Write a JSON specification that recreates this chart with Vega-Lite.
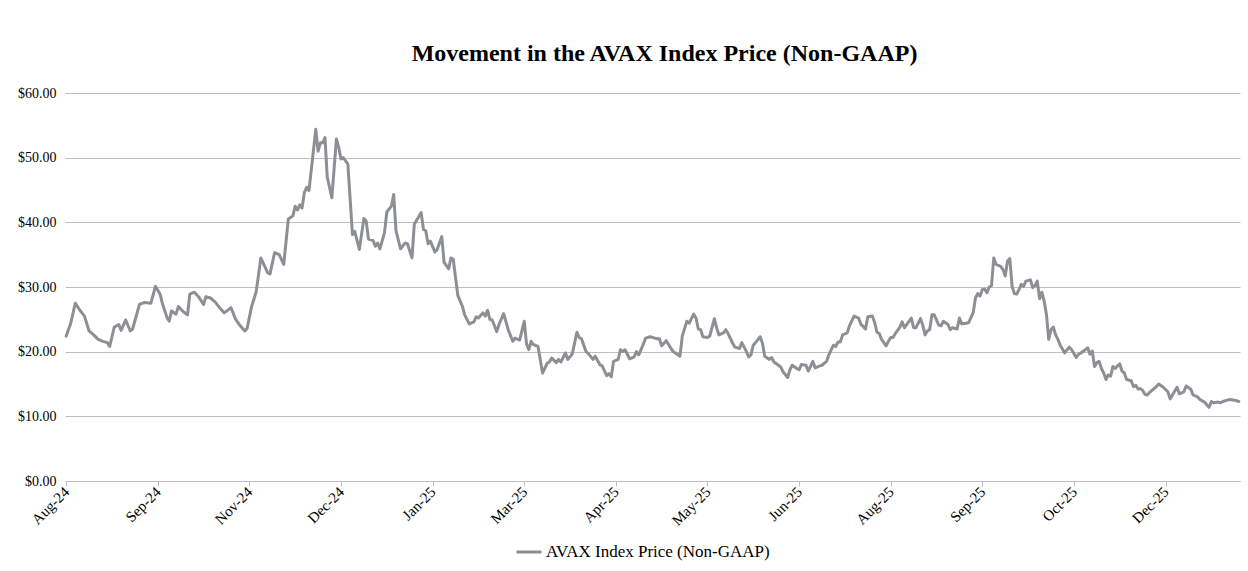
{
  "$schema": "https://vega.github.io/schema/vega-lite/v6.json",
  "width": 1175,
  "height": 388,
  "autosize": {"type": "none"},
  "padding": {"left": 65, "top": 93, "right": 8, "bottom": 90},
  "background": "white",
  "config": {"font": "Liberation Serif", "view": {"stroke": null}},
  "title": {"text": "Movement in the AVAX Index Price (Non-GAAP)", "font": "Liberation Serif", "fontSize": 24, "fontWeight": "bold", "color": "#000000", "anchor": "middle", "dx": 12, "offset": 20},
  "data": {"values": [
    {"date": "2024-08-13", "price": 22.4},
    {"date": "2024-08-15", "price": 24.4},
    {"date": "2024-08-17", "price": 27.5},
    {"date": "2024-08-19", "price": 26.4},
    {"date": "2024-08-21", "price": 25.5},
    {"date": "2024-08-23", "price": 23.2},
    {"date": "2024-08-25", "price": 22.6},
    {"date": "2024-08-27", "price": 21.9},
    {"date": "2024-08-29", "price": 21.6},
    {"date": "2024-08-31", "price": 21.4},
    {"date": "2024-09-01", "price": 20.8},
    {"date": "2024-09-03", "price": 23.8},
    {"date": "2024-09-05", "price": 24.2},
    {"date": "2024-09-06", "price": 23.3},
    {"date": "2024-09-08", "price": 24.9},
    {"date": "2024-09-10", "price": 23.2},
    {"date": "2024-09-11", "price": 23.5},
    {"date": "2024-09-13", "price": 26.0},
    {"date": "2024-09-14", "price": 27.3},
    {"date": "2024-09-16", "price": 27.6},
    {"date": "2024-09-19", "price": 27.5},
    {"date": "2024-09-21", "price": 30.1},
    {"date": "2024-09-23", "price": 28.9},
    {"date": "2024-09-24", "price": 27.5},
    {"date": "2024-09-26", "price": 25.3},
    {"date": "2024-09-27", "price": 24.7},
    {"date": "2024-09-28", "price": 26.3},
    {"date": "2024-09-30", "price": 25.8},
    {"date": "2024-10-01", "price": 27.0},
    {"date": "2024-10-03", "price": 26.2},
    {"date": "2024-10-05", "price": 25.7},
    {"date": "2024-10-06", "price": 28.9},
    {"date": "2024-10-08", "price": 29.2},
    {"date": "2024-10-10", "price": 28.4},
    {"date": "2024-10-12", "price": 27.3},
    {"date": "2024-10-13", "price": 28.5},
    {"date": "2024-10-15", "price": 28.3},
    {"date": "2024-10-17", "price": 27.7},
    {"date": "2024-10-19", "price": 26.8},
    {"date": "2024-10-21", "price": 26.0},
    {"date": "2024-10-24", "price": 26.8},
    {"date": "2024-10-26", "price": 25.0},
    {"date": "2024-10-28", "price": 24.0},
    {"date": "2024-10-30", "price": 23.2},
    {"date": "2024-10-31", "price": 23.6},
    {"date": "2024-11-02", "price": 27.0},
    {"date": "2024-11-04", "price": 29.3},
    {"date": "2024-11-06", "price": 34.5},
    {"date": "2024-11-09", "price": 32.2},
    {"date": "2024-11-10", "price": 32.0},
    {"date": "2024-11-12", "price": 35.3},
    {"date": "2024-11-14", "price": 35.0},
    {"date": "2024-11-16", "price": 33.5},
    {"date": "2024-11-18", "price": 40.5},
    {"date": "2024-11-20", "price": 41.0},
    {"date": "2024-11-21", "price": 42.5},
    {"date": "2024-11-22", "price": 41.9},
    {"date": "2024-11-23", "price": 42.7},
    {"date": "2024-11-24", "price": 42.2},
    {"date": "2024-11-25", "price": 44.6},
    {"date": "2024-11-26", "price": 45.4},
    {"date": "2024-11-27", "price": 44.9},
    {"date": "2024-11-28", "price": 48.0},
    {"date": "2024-11-30", "price": 54.4},
    {"date": "2024-12-01", "price": 51.0},
    {"date": "2024-12-02", "price": 52.3},
    {"date": "2024-12-03", "price": 52.3},
    {"date": "2024-12-04", "price": 53.1},
    {"date": "2024-12-05", "price": 47.0},
    {"date": "2024-12-07", "price": 43.8},
    {"date": "2024-12-09", "price": 52.9},
    {"date": "2024-12-10", "price": 51.6},
    {"date": "2024-12-11", "price": 49.8},
    {"date": "2024-12-12", "price": 50.0},
    {"date": "2024-12-14", "price": 49.0},
    {"date": "2024-12-16", "price": 38.1},
    {"date": "2024-12-17", "price": 38.6},
    {"date": "2024-12-19", "price": 35.8},
    {"date": "2024-12-21", "price": 40.6},
    {"date": "2024-12-22", "price": 40.2},
    {"date": "2024-12-23", "price": 37.4},
    {"date": "2024-12-25", "price": 37.2},
    {"date": "2024-12-26", "price": 36.3},
    {"date": "2024-12-27", "price": 36.8},
    {"date": "2024-12-28", "price": 35.9},
    {"date": "2024-12-30", "price": 38.4},
    {"date": "2024-12-31", "price": 41.6},
    {"date": "2025-01-02", "price": 42.5},
    {"date": "2025-01-03", "price": 44.3},
    {"date": "2025-01-04", "price": 38.7},
    {"date": "2025-01-06", "price": 35.9},
    {"date": "2025-01-08", "price": 36.8},
    {"date": "2025-01-09", "price": 36.7},
    {"date": "2025-01-11", "price": 34.5},
    {"date": "2025-01-12", "price": 39.7},
    {"date": "2025-01-15", "price": 41.5},
    {"date": "2025-01-16", "price": 38.9},
    {"date": "2025-01-17", "price": 38.7},
    {"date": "2025-01-18", "price": 36.7},
    {"date": "2025-01-19", "price": 37.1},
    {"date": "2025-01-21", "price": 35.4},
    {"date": "2025-01-22", "price": 35.8},
    {"date": "2025-01-24", "price": 37.8},
    {"date": "2025-01-25", "price": 33.8},
    {"date": "2025-01-27", "price": 32.8},
    {"date": "2025-01-28", "price": 34.5},
    {"date": "2025-01-29", "price": 34.3},
    {"date": "2025-01-31", "price": 28.7},
    {"date": "2025-02-02", "price": 27.0},
    {"date": "2025-02-03", "price": 25.7},
    {"date": "2025-02-05", "price": 24.3},
    {"date": "2025-02-07", "price": 24.6},
    {"date": "2025-02-08", "price": 25.4},
    {"date": "2025-02-09", "price": 25.2},
    {"date": "2025-02-11", "price": 26.0},
    {"date": "2025-02-12", "price": 25.5},
    {"date": "2025-02-13", "price": 26.4},
    {"date": "2025-02-14", "price": 25.0},
    {"date": "2025-02-15", "price": 24.9},
    {"date": "2025-02-17", "price": 23.1},
    {"date": "2025-02-18", "price": 24.2},
    {"date": "2025-02-20", "price": 25.9},
    {"date": "2025-02-22", "price": 23.4},
    {"date": "2025-02-24", "price": 21.6},
    {"date": "2025-02-25", "price": 22.1},
    {"date": "2025-02-27", "price": 21.8},
    {"date": "2025-03-01", "price": 24.7},
    {"date": "2025-03-02", "price": 21.2},
    {"date": "2025-03-03", "price": 20.3},
    {"date": "2025-03-04", "price": 21.6},
    {"date": "2025-03-05", "price": 21.1},
    {"date": "2025-03-07", "price": 20.8},
    {"date": "2025-03-09", "price": 16.7},
    {"date": "2025-03-11", "price": 18.2},
    {"date": "2025-03-12", "price": 18.4},
    {"date": "2025-03-13", "price": 19.0},
    {"date": "2025-03-15", "price": 18.3},
    {"date": "2025-03-16", "price": 18.8},
    {"date": "2025-03-17", "price": 18.4},
    {"date": "2025-03-19", "price": 19.8},
    {"date": "2025-03-20", "price": 18.8},
    {"date": "2025-03-21", "price": 19.2},
    {"date": "2025-03-22", "price": 19.7},
    {"date": "2025-03-24", "price": 23.0},
    {"date": "2025-03-25", "price": 22.2},
    {"date": "2025-03-26", "price": 22.0},
    {"date": "2025-03-28", "price": 20.0},
    {"date": "2025-03-29", "price": 19.7},
    {"date": "2025-03-31", "price": 18.8},
    {"date": "2025-04-01", "price": 19.3},
    {"date": "2025-04-03", "price": 18.0},
    {"date": "2025-04-04", "price": 17.8},
    {"date": "2025-04-06", "price": 16.3},
    {"date": "2025-04-07", "price": 16.6},
    {"date": "2025-04-08", "price": 16.1},
    {"date": "2025-04-09", "price": 18.5},
    {"date": "2025-04-11", "price": 18.8},
    {"date": "2025-04-12", "price": 20.3},
    {"date": "2025-04-13", "price": 20.0},
    {"date": "2025-04-14", "price": 20.3},
    {"date": "2025-04-16", "price": 18.9},
    {"date": "2025-04-18", "price": 19.2},
    {"date": "2025-04-19", "price": 20.0},
    {"date": "2025-04-20", "price": 19.5},
    {"date": "2025-04-21", "price": 20.3},
    {"date": "2025-04-23", "price": 22.1},
    {"date": "2025-04-25", "price": 22.3},
    {"date": "2025-04-27", "price": 22.1},
    {"date": "2025-04-28", "price": 22.0},
    {"date": "2025-04-29", "price": 22.0},
    {"date": "2025-04-30", "price": 20.9},
    {"date": "2025-05-02", "price": 21.7},
    {"date": "2025-05-03", "price": 21.1},
    {"date": "2025-05-05", "price": 20.0},
    {"date": "2025-05-06", "price": 19.8},
    {"date": "2025-05-08", "price": 19.3},
    {"date": "2025-05-09", "price": 22.4},
    {"date": "2025-05-11", "price": 24.7},
    {"date": "2025-05-12", "price": 24.4},
    {"date": "2025-05-14", "price": 25.8},
    {"date": "2025-05-15", "price": 25.2},
    {"date": "2025-05-16", "price": 23.5},
    {"date": "2025-05-17", "price": 23.4},
    {"date": "2025-05-18", "price": 22.3},
    {"date": "2025-05-20", "price": 22.2},
    {"date": "2025-05-21", "price": 22.4},
    {"date": "2025-05-23", "price": 25.1},
    {"date": "2025-05-24", "price": 23.7},
    {"date": "2025-05-25", "price": 22.6},
    {"date": "2025-05-27", "price": 22.9},
    {"date": "2025-05-28", "price": 23.4},
    {"date": "2025-05-29", "price": 22.8},
    {"date": "2025-05-31", "price": 21.3},
    {"date": "2025-06-01", "price": 20.7},
    {"date": "2025-06-03", "price": 20.5},
    {"date": "2025-06-04", "price": 21.4},
    {"date": "2025-06-06", "price": 20.0},
    {"date": "2025-06-07", "price": 19.2},
    {"date": "2025-06-08", "price": 19.5},
    {"date": "2025-06-09", "price": 21.0},
    {"date": "2025-06-10", "price": 21.4},
    {"date": "2025-06-12", "price": 22.3},
    {"date": "2025-06-13", "price": 21.3},
    {"date": "2025-06-14", "price": 19.3},
    {"date": "2025-06-16", "price": 18.8},
    {"date": "2025-06-17", "price": 19.1},
    {"date": "2025-06-18", "price": 18.4},
    {"date": "2025-06-20", "price": 17.9},
    {"date": "2025-06-21", "price": 17.6},
    {"date": "2025-06-22", "price": 16.9},
    {"date": "2025-06-24", "price": 16.0},
    {"date": "2025-06-25", "price": 17.2},
    {"date": "2025-06-26", "price": 17.9},
    {"date": "2025-06-28", "price": 17.4},
    {"date": "2025-06-29", "price": 17.2},
    {"date": "2025-06-30", "price": 18.0},
    {"date": "2025-07-02", "price": 17.9},
    {"date": "2025-07-03", "price": 17.0},
    {"date": "2025-07-05", "price": 18.5},
    {"date": "2025-07-06", "price": 17.5},
    {"date": "2025-07-08", "price": 17.8},
    {"date": "2025-07-09", "price": 17.9},
    {"date": "2025-07-11", "price": 18.5},
    {"date": "2025-07-12", "price": 19.5},
    {"date": "2025-07-14", "price": 21.0},
    {"date": "2025-07-15", "price": 20.8},
    {"date": "2025-07-16", "price": 21.5},
    {"date": "2025-07-17", "price": 21.5},
    {"date": "2025-07-18", "price": 22.6},
    {"date": "2025-07-20", "price": 22.9},
    {"date": "2025-07-21", "price": 24.0},
    {"date": "2025-07-23", "price": 25.5},
    {"date": "2025-07-25", "price": 25.2},
    {"date": "2025-07-26", "price": 24.2},
    {"date": "2025-07-27", "price": 23.9},
    {"date": "2025-07-28", "price": 23.5},
    {"date": "2025-07-29", "price": 25.4},
    {"date": "2025-07-31", "price": 25.5},
    {"date": "2025-08-01", "price": 24.5},
    {"date": "2025-08-02", "price": 23.0},
    {"date": "2025-08-03", "price": 22.8},
    {"date": "2025-08-04", "price": 21.9},
    {"date": "2025-08-06", "price": 20.9},
    {"date": "2025-08-07", "price": 21.6},
    {"date": "2025-08-08", "price": 22.2},
    {"date": "2025-08-09", "price": 22.2},
    {"date": "2025-08-10", "price": 22.8},
    {"date": "2025-08-12", "price": 23.8},
    {"date": "2025-08-13", "price": 24.6},
    {"date": "2025-08-14", "price": 23.7},
    {"date": "2025-08-16", "price": 24.7},
    {"date": "2025-08-17", "price": 25.2},
    {"date": "2025-08-18", "price": 23.7},
    {"date": "2025-08-19", "price": 23.7},
    {"date": "2025-08-21", "price": 25.1},
    {"date": "2025-08-22", "price": 24.1},
    {"date": "2025-08-23", "price": 22.6},
    {"date": "2025-08-24", "price": 23.2},
    {"date": "2025-08-25", "price": 23.4},
    {"date": "2025-08-26", "price": 25.7},
    {"date": "2025-08-27", "price": 25.7},
    {"date": "2025-08-29", "price": 24.1},
    {"date": "2025-08-30", "price": 24.0},
    {"date": "2025-08-31", "price": 24.7},
    {"date": "2025-09-02", "price": 24.2},
    {"date": "2025-09-03", "price": 23.4},
    {"date": "2025-09-04", "price": 23.7},
    {"date": "2025-09-06", "price": 23.5},
    {"date": "2025-09-07", "price": 25.2},
    {"date": "2025-09-08", "price": 24.3},
    {"date": "2025-09-10", "price": 24.4},
    {"date": "2025-09-11", "price": 24.5},
    {"date": "2025-09-13", "price": 26.0},
    {"date": "2025-09-14", "price": 28.3},
    {"date": "2025-09-15", "price": 29.0},
    {"date": "2025-09-16", "price": 28.6},
    {"date": "2025-09-17", "price": 29.6},
    {"date": "2025-09-18", "price": 29.7},
    {"date": "2025-09-19", "price": 29.1},
    {"date": "2025-09-20", "price": 30.0},
    {"date": "2025-09-21", "price": 30.2},
    {"date": "2025-09-22", "price": 34.5},
    {"date": "2025-09-23", "price": 33.5},
    {"date": "2025-09-25", "price": 33.2},
    {"date": "2025-09-26", "price": 32.7},
    {"date": "2025-09-27", "price": 31.7},
    {"date": "2025-09-28", "price": 34.0},
    {"date": "2025-09-29", "price": 34.4},
    {"date": "2025-09-30", "price": 30.1},
    {"date": "2025-10-01", "price": 29.0},
    {"date": "2025-10-02", "price": 28.9},
    {"date": "2025-10-03", "price": 29.6},
    {"date": "2025-10-04", "price": 30.4},
    {"date": "2025-10-05", "price": 30.1},
    {"date": "2025-10-06", "price": 30.9},
    {"date": "2025-10-08", "price": 31.1},
    {"date": "2025-10-09", "price": 29.9},
    {"date": "2025-10-10", "price": 30.2},
    {"date": "2025-10-11", "price": 30.9},
    {"date": "2025-10-12", "price": 28.2},
    {"date": "2025-10-13", "price": 29.2},
    {"date": "2025-10-14", "price": 27.8},
    {"date": "2025-10-15", "price": 25.7},
    {"date": "2025-10-16", "price": 21.9},
    {"date": "2025-10-17", "price": 23.4},
    {"date": "2025-10-18", "price": 23.8},
    {"date": "2025-10-19", "price": 22.6},
    {"date": "2025-10-20", "price": 21.9},
    {"date": "2025-10-21", "price": 21.0},
    {"date": "2025-10-23", "price": 19.8},
    {"date": "2025-10-24", "price": 20.3},
    {"date": "2025-10-25", "price": 20.7},
    {"date": "2025-10-26", "price": 20.3},
    {"date": "2025-10-28", "price": 19.1},
    {"date": "2025-10-29", "price": 19.6},
    {"date": "2025-10-30", "price": 19.8},
    {"date": "2025-11-01", "price": 20.3},
    {"date": "2025-11-02", "price": 20.6},
    {"date": "2025-11-03", "price": 19.6},
    {"date": "2025-11-04", "price": 20.1},
    {"date": "2025-11-05", "price": 17.7},
    {"date": "2025-11-06", "price": 18.3},
    {"date": "2025-11-07", "price": 18.5},
    {"date": "2025-11-08", "price": 17.4},
    {"date": "2025-11-09", "price": 16.7},
    {"date": "2025-11-10", "price": 15.7},
    {"date": "2025-11-11", "price": 16.4},
    {"date": "2025-11-12", "price": 16.2},
    {"date": "2025-11-13", "price": 17.7},
    {"date": "2025-11-14", "price": 17.4},
    {"date": "2025-11-15", "price": 17.8},
    {"date": "2025-11-16", "price": 18.1},
    {"date": "2025-11-17", "price": 17.0},
    {"date": "2025-11-18", "price": 16.7},
    {"date": "2025-11-19", "price": 15.7},
    {"date": "2025-11-21", "price": 15.5},
    {"date": "2025-11-22", "price": 14.6},
    {"date": "2025-11-23", "price": 14.8},
    {"date": "2025-11-24", "price": 14.2},
    {"date": "2025-11-25", "price": 14.3},
    {"date": "2025-11-26", "price": 14.0},
    {"date": "2025-11-27", "price": 13.4},
    {"date": "2025-11-28", "price": 13.3},
    {"date": "2025-11-29", "price": 13.7},
    {"date": "2025-12-02", "price": 14.6},
    {"date": "2025-12-03", "price": 15.0},
    {"date": "2025-12-05", "price": 14.5},
    {"date": "2025-12-07", "price": 13.8},
    {"date": "2025-12-08", "price": 12.7},
    {"date": "2025-12-10", "price": 13.9},
    {"date": "2025-12-11", "price": 14.5},
    {"date": "2025-12-12", "price": 13.5},
    {"date": "2025-12-13", "price": 13.6},
    {"date": "2025-12-14", "price": 13.8},
    {"date": "2025-12-15", "price": 14.7},
    {"date": "2025-12-17", "price": 14.2},
    {"date": "2025-12-18", "price": 13.3},
    {"date": "2025-12-20", "price": 13.0},
    {"date": "2025-12-21", "price": 12.6},
    {"date": "2025-12-23", "price": 12.2},
    {"date": "2025-12-24", "price": 11.8},
    {"date": "2025-12-25", "price": 11.4},
    {"date": "2025-12-26", "price": 12.3},
    {"date": "2025-12-27", "price": 12.1},
    {"date": "2025-12-29", "price": 12.2},
    {"date": "2025-12-30", "price": 12.1},
    {"date": "2025-12-31", "price": 12.3},
    {"date": "2026-01-02", "price": 12.5},
    {"date": "2026-01-03", "price": 12.6},
    {"date": "2026-01-05", "price": 12.5},
    {"date": "2026-01-06", "price": 12.4},
    {"date": "2026-01-07", "price": 12.3}
  ]},
  "mark": {"type": "line", "strokeWidth": 3, "strokeJoin": "round", "strokeCap": "round"},
  "encoding": {
    "x": {
      "field": "date",
      "type": "temporal",
      "scale": {"type": "utc", "domain": [{"year": 2024, "month": 8, "date": 12, "hours": 12, "utc": true}, {"year": 2026, "month": 1, "date": 7, "hours": 12, "utc": true}]},
      "axis": {
        "title": null,
        "grid": false,
        "values": [
          {"year": 2024, "month": 8, "date": 13, "utc": true},
          {"year": 2024, "month": 9, "date": 22, "utc": true},
          {"year": 2024, "month": 11, "date": 1, "utc": true},
          {"year": 2024, "month": 12, "date": 11, "utc": true},
          {"year": 2025, "month": 1, "date": 20, "utc": true},
          {"year": 2025, "month": 3, "date": 1, "utc": true},
          {"year": 2025, "month": 4, "date": 10, "utc": true},
          {"year": 2025, "month": 5, "date": 20, "utc": true},
          {"year": 2025, "month": 6, "date": 29, "utc": true},
          {"year": 2025, "month": 8, "date": 8, "utc": true},
          {"year": 2025, "month": 9, "date": 17, "utc": true},
          {"year": 2025, "month": 10, "date": 27, "utc": true},
          {"year": 2025, "month": 12, "date": 6, "utc": true}
        ],
        "format": "%b-%y",
        "labelAngle": -45,
        "labelAlign": "right",
        "labelBaseline": "middle",
        "labelFont": "Liberation Serif",
        "labelFontSize": 15,
        "labelColor": "#000000",
        "labelPadding": 3,
        "labelOverlap": false,
        "labelFlush": false,
        "domainColor": "#bfbfbf",
        "domainWidth": 1,
        "ticks": true,
        "tickColor": "#bfbfbf",
        "tickSize": 5
      }
    },
    "y": {
      "field": "price",
      "type": "quantitative",
      "scale": {"domain": [0, 60], "nice": false},
      "axis": {
        "title": null,
        "values": [0, 10, 20, 30, 40, 50, 60],
        "format": "$.2f",
        "domain": false,
        "ticks": false,
        "grid": true,
        "gridColor": "#bfbfbf",
        "gridWidth": 1,
        "labelFont": "Liberation Serif",
        "labelFontSize": 14,
        "labelColor": "#000000",
        "labelPadding": 9
      }
    },
    "color": {
      "datum": "AVAX Index Price (Non-GAAP)",
      "scale": {"range": ["#8c9095"]},
      "legend": {
        "orient": "none",
        "legendX": 450,
        "legendY": 445,
        "title": null,
        "symbolType": "stroke",
        "symbolSize": 625,
        "symbolStrokeWidth": 3,
        "labelFont": "Liberation Serif",
        "labelFontSize": 17,
        "labelColor": "#000000",
        "labelOffset": 3,
        "labelLimit": 0
      }
    }
  }
}
